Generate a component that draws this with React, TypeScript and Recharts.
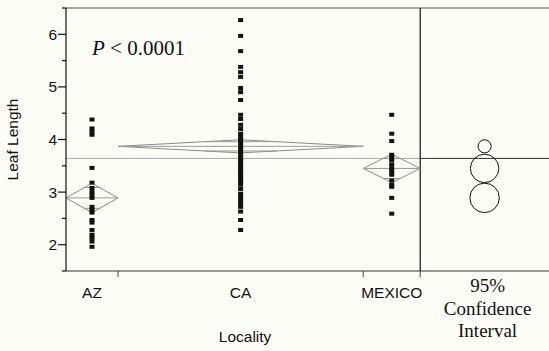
import React from "react";
import { ComposedChart, Scatter, Line, XAxis, YAxis, ReferenceLine } from "recharts";

const localities = ["AZ", "CA", "MEXICO"];
const sampleSizes = [21, 99, 23];
const groupMeans = [2.89, 3.87, 3.45];
const ciHalfWidths = [0.28, 0.125, 0.27];
const grandMean = 3.64;

const azLeaf = [4.38, 4.21, 4.15, 4.09, 3.46, 3.18, 3.08, 3.01, 2.95, 2.89, 2.72, 2.66, 2.61, 2.47, 2.42, 2.28, 2.19, 2.13, 2.06, 1.96];
const caLeaf = [
  6.27, 5.97, 5.68, 5.38, 5.28, 5.19, 4.98, 4.9, 4.75, 4.47, 4.39, 4.28, 4.2, 4.11, 4.05, 3.99, 3.94, 3.88, 3.82,
  3.76, 3.71, 3.65, 3.59, 3.54, 3.48, 3.42, 3.37, 3.31, 3.25, 3.2, 3.14, 3.06, 2.97, 2.91, 2.85, 2.78, 2.72, 2.63,
  2.47, 2.28,
];
const mexicoLeaf = [4.47, 4.11, 3.97, 3.71, 3.66, 3.6, 3.52, 3.45, 3.39, 3.33, 3.22, 3.14, 3.1, 2.89, 2.59];

const yTicks = [1.5, 2, 2.5, 3, 3.5, 4, 4.5, 5, 5.5, 6, 6.5];
const yDomain = [1.5, 6.5];
const ciPanelUnits = 52;
const ciLabel = ["95%", "Confidence", "Interval"];

const W = 549;
const H = 351;
const MARGIN = { top: 8, right: 0, bottom: 0, left: 30 };
const X_AXIS_H = 80;
const SANS = '"Liberation Sans", Arial, Helvetica, sans-serif';
const SERIF = '"Liberation Serif", "Times New Roman", serif';
const INK = "#111";

const starts = sampleSizes.map((_, i) => sampleSizes.slice(0, i).reduce((a, b) => a + b, 0));
const ends = starts.map((s, i) => s + sampleSizes[i]);
const centers = starts.map((s, i) => s + sampleSizes[i] / 2);
const total = ends[ends.length - 1];
const xMax = total + ciPanelUnits;
const ciCenter = total + ciPanelUnits / 2;
const plotH = H - MARGIN.top - X_AXIS_H;
const pxPerUnit = plotH / (yDomain[1] - yDomain[0]);

const pointSets = [azLeaf, caLeaf, mexicoLeaf].map((vals, i) => vals.map((y) => ({ x: centers[i], y })));

const diamonds = localities.map((_, i) => {
  const m = groupMeans[i];
  const ci = ciHalfWidths[i];
  return [
    { x: starts[i], y: m },
    { x: centers[i], y: m + ci },
    { x: ends[i], y: m },
    { x: centers[i], y: m - ci },
    { x: starts[i], y: m },
  ];
});

const meanLines = localities.map((_, i) => [
  { x: starts[i], y: groupMeans[i] },
  { x: ends[i], y: groupMeans[i] },
]);

const overlapMarks = localities.map((_, i) => {
  const m = groupMeans[i];
  const h = ciHalfWidths[i] * Math.SQRT1_2;
  const half = (1 - Math.SQRT1_2) * (sampleSizes[i] / 2);
  return [
    { x: centers[i] - half, y: m + h },
    { x: centers[i] + half, y: m + h },
    { x: centers[i], y: null },
    { x: centers[i] - half, y: m - h },
    { x: centers[i] + half, y: m - h },
  ];
});

const circles = localities.map((_, i) => ({ x: ciCenter, y: groupMeans[i], ci: ciHalfWidths[i] }));

const xTicks = [...centers, ...ends, ciCenter].sort((a, b) => a - b);

function Square(props: any) {
  const { cx, cy } = props;
  return <rect x={cx - 2.5} y={cy - 2} width={5} height={4} fill={INK} />;
}

function CompCircle(props: any) {
  const { cx, cy, payload } = props;
  return <circle cx={cx} cy={cy} r={payload.ci * pxPerUnit} fill="none" stroke={INK} strokeWidth={1} />;
}

function YTick({ x, y, payload }: any) {
  const v = payload.value;
  const major = Number.isInteger(v);
  return (
    <g>
      <line x1={x - (major ? 8 : 4)} x2={x} y1={y} y2={y} stroke={INK} strokeWidth={1.2} />
      {major && (
        <text x={x - 9} y={y} dy={5.5} textAnchor="end" fontSize={15.5} fontFamily={SANS} fill={INK}>
          {v}
        </text>
      )}
    </g>
  );
}

function XTick({ x, y, payload }: any) {
  const v = payload.value;
  const ci = centers.indexOf(v);
  if (ci >= 0) {
    return (
      <text x={x} y={y + 27} textAnchor="middle" fontSize={15.5} fontFamily={SANS} fill={INK}>
        {localities[ci]}
      </text>
    );
  }
  if (v === ciCenter) {
    return (
      <text x={x + 3} y={y + 21} textAnchor="middle" fontSize={19} fontFamily={SERIF} fill={INK}>
        {ciLabel.map((t, i) => (
          <tspan key={t} x={x + 3} dy={i === 0 ? 0 : 22.5}>
            {t}
          </tspan>
        ))}
      </text>
    );
  }
  return <line x1={x} x2={x} y1={y} y2={y + 6} stroke="#444" strokeWidth={1} />;
}

export default function App() {
  return (
    <div style={{ width: W, height: H, background: "#fdfdf8", overflow: "hidden" }}>
      <style>{"body{margin:0}"}</style>
      <ComposedChart width={W} height={H} margin={MARGIN}>
        <XAxis
          dataKey="x"
          type="number"
          domain={[0, xMax]}
          ticks={xTicks}
          interval={0}
          allowDataOverflow
          tick={<XTick />}
          tickLine={false}
          tickSize={0}
          tickMargin={0}
          height={X_AXIS_H}
          axisLine={{ stroke: "#333", strokeWidth: 1.2 }}
          label={({ viewBox }: any) => {
            const vb = viewBox || { x: 66, y: 271, width: 483 };
            return (
              <text
                x={vb.x + (vb.width * (total / 2)) / xMax + 2}
                y={vb.y + 71}
                textAnchor="middle"
                fontSize={15.5}
                fontFamily={SANS}
                fill={INK}
              >
                Locality
              </text>
            );
          }}
        />
        <YAxis
          dataKey="y"
          type="number"
          domain={yDomain}
          ticks={yTicks}
          interval={0}
          allowDataOverflow
          width={36}
          tick={<YTick />}
          tickLine={false}
          tickSize={0}
          tickMargin={0}
          axisLine={{ stroke: INK, strokeWidth: 1.2 }}
          label={({ viewBox }: any) => {
            const vb = viewBox || { x: 30, y: 8, width: 36, height: 263 };
            const cx = vb.x - 12;
            const cy = vb.y + vb.height / 2;
            return (
              <text
                transform={`translate(${cx}, ${cy}) rotate(-90)`}
                textAnchor="middle"
                fontSize={15.5}
                fontFamily={SANS}
                fill={INK}
              >
                Leaf Length
              </text>
            );
          }}
        />
        <ReferenceLine y={yDomain[1]} stroke="#555" strokeWidth={1.2} />
        <ReferenceLine
          segment={[
            { x: 0, y: grandMean },
            { x: total, y: grandMean },
          ]}
          stroke="#aaa"
          strokeWidth={1}
        />
        <ReferenceLine
          segment={[
            { x: total, y: grandMean },
            { x: xMax, y: grandMean },
          ]}
          stroke="#333"
          strokeWidth={1}
        />
        <ReferenceLine x={total} stroke={INK} strokeWidth={1.2} />
        {diamonds.map((d, i) => (
          <Line key={`d${i}`} data={d} dataKey="y" type="linear" stroke="#8a8a8a" strokeWidth={1} dot={false} isAnimationActive={false} />
        ))}
        {meanLines.map((d, i) => (
          <Line key={`m${i}`} data={d} dataKey="y" type="linear" stroke="#999" strokeWidth={1} dot={false} isAnimationActive={false} />
        ))}
        {overlapMarks.map((d, i) => (
          <Line key={`o${i}`} data={d} dataKey="y" type="linear" stroke="#999" strokeWidth={1} dot={false} isAnimationActive={false} />
        ))}
        {pointSets.map((d, i) => (
          <Scatter key={`p${i}`} data={d} shape={<Square />} isAnimationActive={false} />
        ))}
        <Scatter data={circles} shape={<CompCircle />} isAnimationActive={false} />
        <text x={92} y={55} fontSize={21} fontFamily={SERIF} fill={INK}>
          <tspan fontStyle="italic">P</tspan> {"< 0.0001"}
        </text>
      </ComposedChart>
    </div>
  );
}
